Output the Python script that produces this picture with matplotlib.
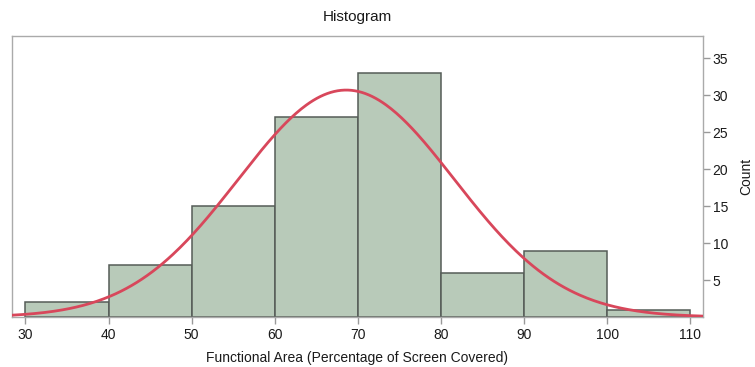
import numpy as np
import matplotlib
matplotlib.use('Agg')
import matplotlib.pyplot as plt

# histogram bins and counts
bin_edges = [30, 40, 50, 60, 70, 80, 90, 100, 110]
counts = [2, 7, 15, 27, 33, 6, 9, 1]
x_ticks = [30, 40, 50, 60, 70, 80, 90, 100, 110]
y_ticks = [5, 10, 15, 20, 25, 30, 35]

# fitted normal curve parameters
fit_mean = 68.6
fit_std = 13.0

plt.rcParams['font.family'] = ['Liberation Sans', 'DejaVu Sans']

fig = plt.figure(figsize=(7.55, 3.67), dpi=100)
ax = fig.add_axes([0.016, 0.136, 0.915, 0.766])

lefts = np.array(bin_edges[:-1])
widths = np.diff(bin_edges)
ax.bar(lefts, counts, width=widths, align='edge', color='#b8cab9',
       edgecolor='#555c57', linewidth=1.1, zorder=2)

xmin, xmax = 28.4, 111.5
xs = np.linspace(xmin, xmax, 400)
total = sum(counts)
ys = total * widths[0] / (fit_std * np.sqrt(2 * np.pi)) * np.exp(-0.5 * ((xs - fit_mean) / fit_std) ** 2)
ax.plot(xs, ys, color='#d8475b', lw=2, zorder=3)

ax.set_xlim(xmin, xmax)
ax.set_ylim(0, 38)
ax.set_xticks(x_ticks)
ax.set_yticks(y_ticks)
ax.yaxis.tick_right()
ax.yaxis.set_label_position('right')
ax.tick_params(axis='both', colors='#999999', labelcolor='#1a1a1a', labelsize=10,
               length=5, width=1)
ax.tick_params(axis='y', pad=2)
ax.tick_params(axis='x', pad=3)
for s in ax.spines.values():
    s.set_color('#aaaaaa')
    s.set_linewidth(1)

ax.set_title('Histogram', fontsize=11, color='#1a1a1a', pad=11)
ax.set_xlabel('Functional Area (Percentage of Screen Covered)', fontsize=10, color='#1a1a1a', labelpad=6)
ax.set_ylabel('Count', fontsize=10, color='#1a1a1a', labelpad=8)

fig.savefig('out.png', dpi=100)
